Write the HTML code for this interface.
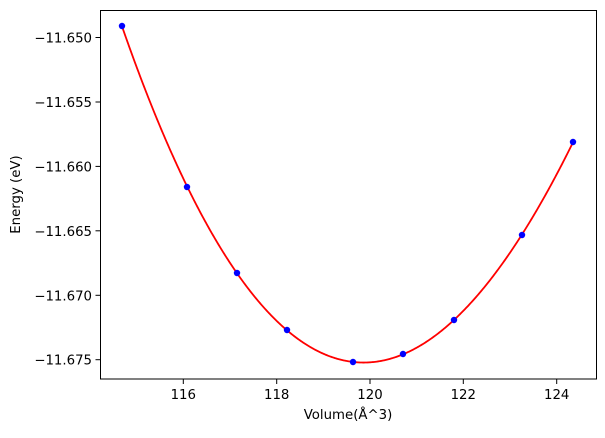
<!DOCTYPE html>
<html><head><meta charset="utf-8"><style>
body{margin:0;background:#fff}
text{font-family:"DejaVu Sans","Liberation Sans",sans-serif;font-size:13.3px;fill:#000}
</style></head><body>
<svg id="s" width="605" height="433" xmlns="http://www.w3.org/2000/svg">
<rect x="0" y="0" width="605" height="433" fill="#fff"/>
<path id="curve" fill="none" stroke="red" stroke-width="1.8"/>
<g id="pts" fill="blue"></g>
<rect x="100.5" y="10.5" width="496" height="368.5" fill="none" stroke="#000" stroke-width="1"/>
<g stroke="#000" stroke-width="1">
<line x1="183.3" y1="379" x2="183.3" y2="384"/>
<line x1="276.7" y1="379" x2="276.7" y2="384"/>
<line x1="370" y1="379" x2="370" y2="384"/>
<line x1="463.3" y1="379" x2="463.3" y2="384"/>
<line x1="556.7" y1="379" x2="556.7" y2="384"/>
<line x1="95.5" y1="37.5" x2="100.5" y2="37.5"/>
<line x1="95.5" y1="102" x2="100.5" y2="102"/>
<line x1="95.5" y1="166.4" x2="100.5" y2="166.4"/>
<line x1="95.5" y1="230.8" x2="100.5" y2="230.8"/>
<line x1="95.5" y1="295.3" x2="100.5" y2="295.3"/>
<line x1="95.5" y1="359.7" x2="100.5" y2="359.7"/>
</g>
<g text-anchor="middle">
<text x="183.3" y="399">116</text>
<text x="276.7" y="399">118</text>
<text x="370" y="399">120</text>
<text x="463.3" y="399">122</text>
<text x="556.7" y="399">124</text>
<text x="348" y="419">Volume(Å^3)</text>
</g>
<g text-anchor="end">
<text x="92" y="42.5">−11.650</text>
<text x="92" y="107">−11.655</text>
<text x="92" y="171.4">−11.660</text>
<text x="92" y="235.8">−11.665</text>
<text x="92" y="300.3">−11.670</text>
<text x="92" y="364.7">−11.675</text>
</g>
<text transform="translate(20,194.5) rotate(-90)" text-anchor="middle">Energy (eV)</text>
</svg>
<script>
var p=[[122,26],[187,187],[237,273],[287,330],[353,362],[403,354],[454,320],[522,235],[573,142]];
// least squares cubic fit
var n=4,A=[],B=[];
for(var i=0;i<n;i++){A.push([0,0,0,0]);B.push(0);}
function u(x){return (x-350)/200;}
p.forEach(function(q){var t=u(q[0]);var pw=[1,t,t*t,t*t*t];
 for(var i=0;i<n;i++){B[i]+=pw[i]*q[1];for(var j=0;j<n;j++)A[i][j]+=pw[i]*pw[j];}});
for(var i=0;i<n;i++){for(var k=i+1;k<n;k++){var f=A[k][i]/A[i][i];for(var j=i;j<n;j++)A[k][j]-=f*A[i][j];B[k]-=f*B[i];}}
var c=[0,0,0,0];
for(var i=n-1;i>=0;i--){var s=B[i];for(var j=i+1;j<n;j++)s-=A[i][j]*c[j];c[i]=s/A[i][i];}
var d="";
for(var x=122;x<=573;x+=1){var t=u(x);var y=c[0]+c[1]*t+c[2]*t*t+c[3]*t*t*t;d+=(x==122?"M":"L")+x+","+y.toFixed(2);}
document.getElementById("curve").setAttribute("d",d);
var g=document.getElementById("pts"),h="";
p.forEach(function(q){h+='<circle cx="'+q[0]+'" cy="'+q[1]+'" r="3.2"/>';});
g.innerHTML=h;
</script>
</body></html>
